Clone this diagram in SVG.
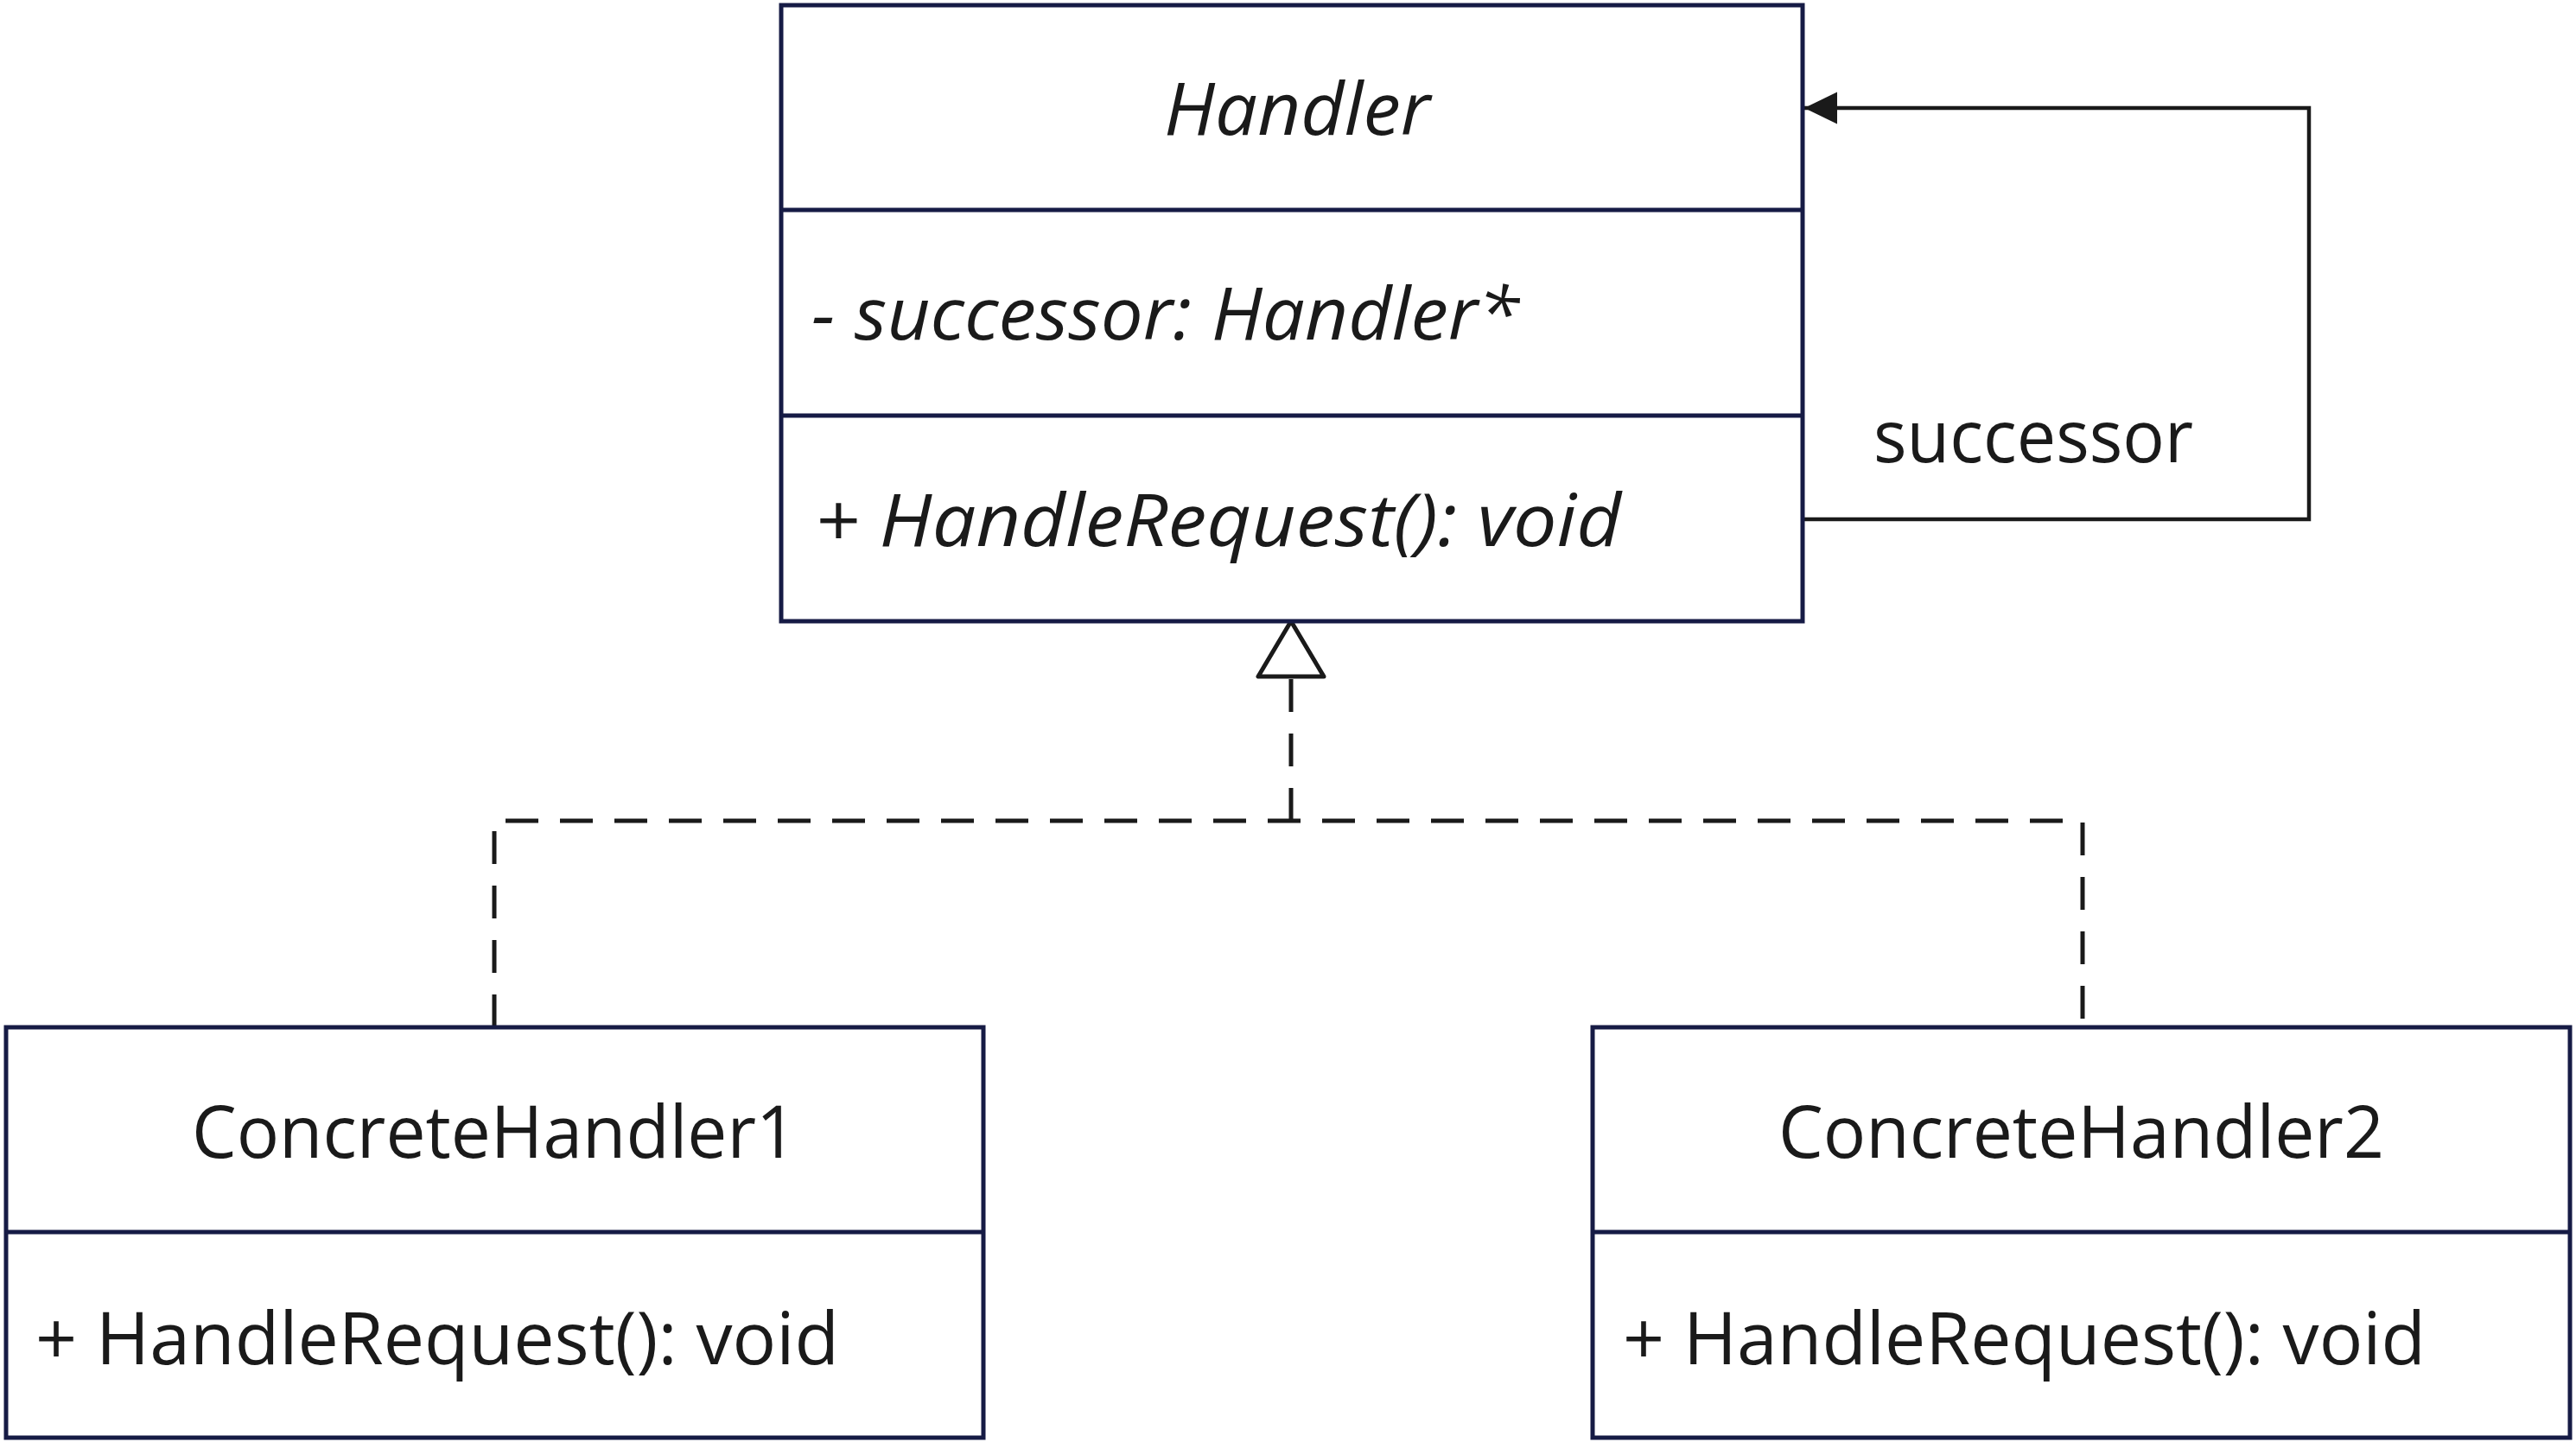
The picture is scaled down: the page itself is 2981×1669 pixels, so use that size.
<svg xmlns="http://www.w3.org/2000/svg" width="2981" height="1669" viewBox="0 0 2981 1669">
<style>
.box{fill:#ffffff;stroke:#161b45;stroke-width:5}
.div{stroke:#161b45;stroke-width:5}
.t{font-family:"Open Sans","Noto Sans","Liberation Sans",sans-serif;font-size:85px;fill:#1a1a1a}
.i{font-style:italic}
.conn{fill:none;stroke:#1a1a1a;stroke-width:4.5}
.dash{fill:none;stroke:#1a1a1a;stroke-width:5;stroke-dasharray:38 25}
</style>
<defs>
<marker id="arrow" markerUnits="userSpaceOnUse" markerWidth="40" markerHeight="40" refX="38" refY="18.5" orient="auto">
<path d="M0,0 L38,18.5 L0,37 Z" fill="#1a1a1a"/>
</marker>
</defs>
<rect width="2981" height="1669" fill="#ffffff"/>
<g id="connectors">
<path class="conn" d="M2086 601 H2672 V125 H2088" marker-end="url(#arrow)"/>
<text class="t" x="2168" y="535" textLength="370" lengthAdjust="spacingAndGlyphs">successor</text>
<path class="dash" d="M572 1189 V950 H2410 V1189"/>
<path class="dash" d="M1494 950 V783" stroke-dashoffset="0"/>
<polygon points="1494,719 1456,783 1532,783" fill="#ffffff" stroke="#1a1a1a" stroke-width="5" stroke-linejoin="round"/>
</g>
<g id="handler">
<rect class="box" x="904" y="6" width="1182" height="713"/>
<line class="div" x1="904" y1="243" x2="2086" y2="243"/>
<line class="div" x1="904" y1="481" x2="2086" y2="481"/>
<text class="t i" x="1347" y="156" textLength="308" lengthAdjust="spacingAndGlyphs">Handler</text>
<text class="t i" x="939" y="393" textLength="819" lengthAdjust="spacingAndGlyphs">- successor: Handler*</text>
<text class="t i" x="943" y="632" textLength="933" lengthAdjust="spacingAndGlyphs">+ HandleRequest(): void</text>
</g>
<g id="concrete1">
<rect class="box" x="7" y="1189" width="1131" height="475"/>
<line class="div" x1="7" y1="1426" x2="1138" y2="1426"/>
<text class="t" x="222" y="1340" textLength="700" lengthAdjust="spacingAndGlyphs">ConcreteHandler1</text>
<text class="t" x="41" y="1579" textLength="930" lengthAdjust="spacingAndGlyphs">+ HandleRequest(): void</text>
</g>
<g id="concrete2">
<rect class="box" x="1843" y="1189" width="1131" height="475"/>
<line class="div" x1="1843" y1="1426" x2="2974" y2="1426"/>
<text class="t" x="2058" y="1340" textLength="701" lengthAdjust="spacingAndGlyphs">ConcreteHandler2</text>
<text class="t" x="1878" y="1579" textLength="929" lengthAdjust="spacingAndGlyphs">+ HandleRequest(): void</text>
</g>
</svg>
